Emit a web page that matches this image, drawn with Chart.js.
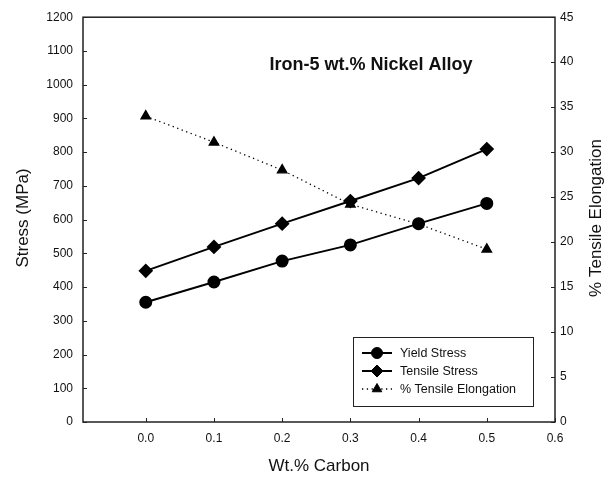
<!DOCTYPE html>
<html>
<head>
<meta charset="utf-8">
<script src="https://cdn.jsdelivr.net/npm/chart.js@4/dist/chart.umd.min.js"></script>
<style>
  html, body { margin: 0; padding: 0; background: #fff; }
  #wrap { width: 609px; height: 478px; }
</style>
</head>
<body>
<div id="wrap"><canvas id="chart" width="609" height="478"></canvas></div>
<script>
// data
const carbon = [0.0, 0.1, 0.2, 0.3, 0.4, 0.5];
const yieldStress = [355, 415, 477, 525, 588, 648];
const tensileStress = [448, 519, 588, 655, 723, 809];
const elongation = [34, 31.1, 28, 24.2, 22, 19.2];
const xTicks = [0.0, 0.1, 0.2, 0.3, 0.4, 0.5, 0.6];

const FONT = '"Liberation Sans", Arial, sans-serif';
const INK = '#111';

function pts(ys) {
    return carbon.map((x, i) => ({ x: x, y: ys[i] }));
}

// frame, inward ticks, titles, legend
const decor = {
    id: 'decor',
    afterDatasetsDraw(chart) {
        const ctx = chart.ctx;
        const a = chart.chartArea;
        const sx = chart.scales.x, sy = chart.scales.y, sy2 = chart.scales.y2;
        ctx.save();
        ctx.strokeStyle = '#222';
        ctx.lineWidth = 1.5;
        ctx.strokeRect(a.left, a.top, a.right - a.left, a.bottom - a.top);

        ctx.lineWidth = 1;
        ctx.beginPath();
        xTicks.forEach(v => {
            const px = Math.round(sx.getPixelForValue(v)) + 0.5;
            ctx.moveTo(px, a.bottom); ctx.lineTo(px, a.bottom - 4);
        });
        sy.ticks.forEach(t => {
            const py = Math.round(sy.getPixelForValue(t.value)) + 0.5;
            ctx.moveTo(a.left, py); ctx.lineTo(a.left + 4, py);
        });
        sy2.ticks.forEach(t => {
            const py = Math.round(sy2.getPixelForValue(t.value)) + 0.5;
            ctx.moveTo(a.right, py); ctx.lineTo(a.right - 4, py);
        });
        ctx.stroke();

        // axis titles
        ctx.fillStyle = INK;
        ctx.font = '17px ' + FONT;
        ctx.textAlign = 'center';
        ctx.textBaseline = 'middle';
        ctx.fillText('Wt.% Carbon', (a.left + a.right) / 2, 466);
        ctx.save();
        ctx.translate(23, 218);
        ctx.rotate(-Math.PI / 2);
        ctx.fillText('Stress (MPa)', 0, 0);
        ctx.restore();
        ctx.save();
        ctx.translate(596, 218);
        ctx.rotate(-Math.PI / 2);
        ctx.fillText('% Tensile Elongation', 0, 0);
        ctx.restore();

        // chart title inside the plot
        ctx.font = 'bold 18px ' + FONT;
        ctx.fillText('Iron-5 wt.% Nickel Alloy', 371, 65);

        // legend box
        const bx = 353, by = 337, bw = 180, bh = 69;
        ctx.fillStyle = '#fff';
        ctx.fillRect(bx, by, bw, bh);
        ctx.strokeStyle = '#222';
        ctx.lineWidth = 1;
        ctx.strokeRect(bx + 0.5, by + 0.5, bw, bh);
        const rows = [353, 371, 389];
        chart.data.datasets.forEach((ds, i) => {
            const y = rows[i];
            ctx.save();
            ctx.strokeStyle = ds.borderColor;
            ctx.lineWidth = ds.borderWidth;
            ctx.setLineDash(ds.borderDash || []);
            ctx.beginPath();
            ctx.moveTo(362, y); ctx.lineTo(392, y);
            ctx.stroke();
            ctx.restore();
            ctx.fillStyle = '#000';
            ctx.strokeStyle = '#000';
            Chart.helpers.drawPoint(ctx, {
                pointStyle: ds.pointStyle, radius: ds.pointRadius,
                rotation: 0, borderWidth: 1
            }, 377, y);
            ctx.fillStyle = INK;
            ctx.font = '12.5px ' + FONT;
            ctx.textAlign = 'left';
            ctx.fillText(ds.label, 400, y + 1);
        });
        ctx.restore();
    }
};

new Chart(document.getElementById('chart'), {
    type: 'line',
    data: {
        datasets: [
            {
                label: 'Yield Stress',
                data: pts(yieldStress),
                yAxisID: 'y',
                borderColor: '#000',
                backgroundColor: '#000',
                borderWidth: 2,
                pointStyle: 'circle',
                pointRadius: 5.5,
                tension: 0
            },
            {
                label: 'Tensile Stress',
                data: pts(tensileStress),
                yAxisID: 'y',
                borderColor: '#000',
                backgroundColor: '#000',
                borderWidth: 2,
                pointStyle: 'rectRot',
                pointRadius: 6,
                tension: 0
            },
            {
                label: '% Tensile Elongation',
                data: pts(elongation),
                yAxisID: 'y2',
                borderColor: '#000',
                backgroundColor: '#000',
                borderWidth: 1.3,
                borderDash: [1.3, 3.5],
                pointStyle: 'triangle',
                pointRadius: 5.5,
                tension: 0
            }
        ]
    },
    options: {
        responsive: false,
        animation: false,
        layout: { padding: { top: 15, left: 0, right: 0, bottom: 0 } },
        plugins: {
            legend: { display: false },
            tooltip: { enabled: false }
        },
        scales: {
            x: {
                type: 'linear',
                min: -0.092,
                max: 0.6,
                afterBuildTicks: s => { s.ticks = xTicks.map(v => ({ value: v })); },
                afterFit: s => { s.height = 56; },
                grid: { display: false, drawTicks: false },
                border: { display: false },
                ticks: {
                    padding: 9,
                    color: INK,
                    font: { family: FONT, size: 12 },
                    callback: v => v.toFixed(1),
                    maxRotation: 0
                }
            },
            y: {
                position: 'left',
                min: 0,
                max: 1200,
                afterFit: s => { s.width = 83; },
                grid: { display: false, drawTicks: false },
                border: { display: false },
                ticks: {
                    stepSize: 100,
                    padding: 10,
                    color: INK,
                    font: { family: FONT, size: 12 },
                    callback: v => String(v)
                }
            },
            y2: {
                position: 'right',
                min: 0,
                max: 45,
                afterFit: s => { s.width = 54; },
                grid: { display: false, drawTicks: false },
                border: { display: false },
                ticks: {
                    stepSize: 5,
                    padding: 5,
                    color: INK,
                    font: { family: FONT, size: 12 },
                    callback: v => String(v)
                }
            }
        }
    },
    plugins: [decor]
});
</script>
</body>
</html>
